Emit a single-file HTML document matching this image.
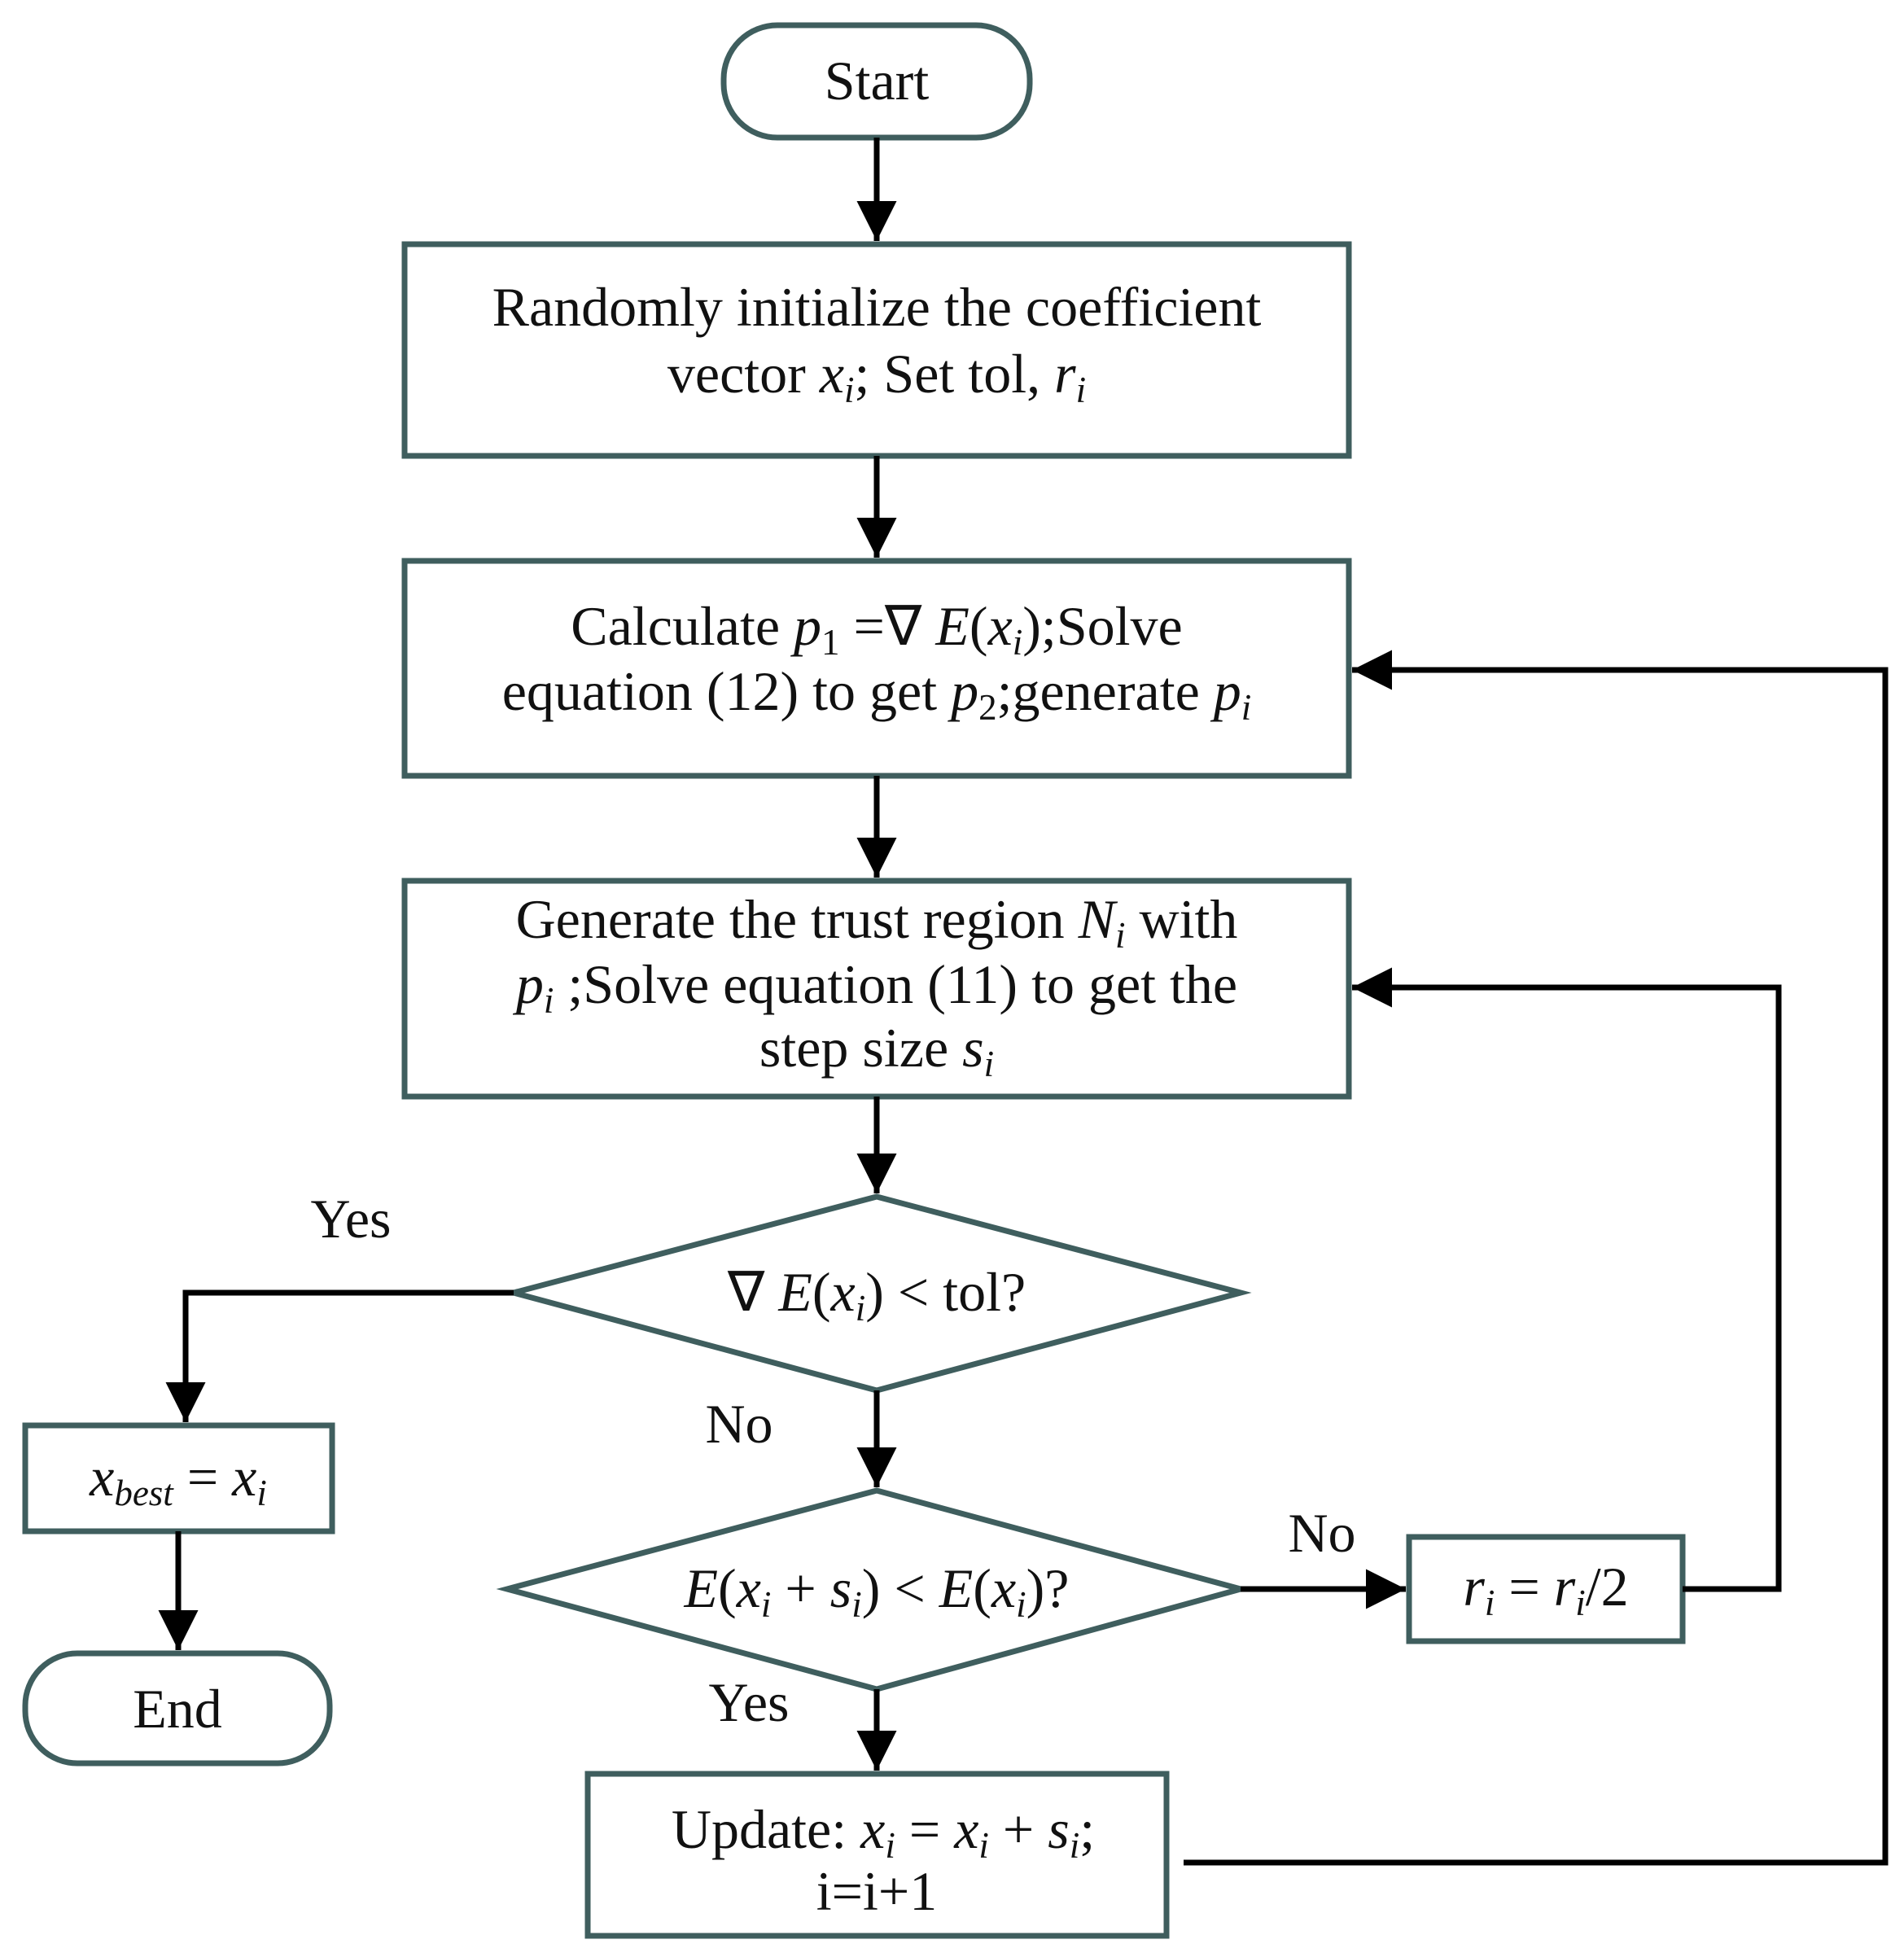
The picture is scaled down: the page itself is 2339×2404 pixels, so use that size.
<!DOCTYPE html>
<html><head><meta charset="utf-8"><style>
html,body{margin:0;padding:0;background:#fff;}
svg{display:block;}
text{font-family:"Liberation Serif",serif;font-size:68px;fill:#111;}
.m{font-style:italic;}
</style></head><body>
<svg width="2339" height="2404" viewBox="0 0 2339 2404" xmlns="http://www.w3.org/2000/svg">
<defs>
<marker id="a" markerWidth="8" markerHeight="8" refX="7" refY="4" orient="auto" markerUnits="strokeWidth">
<path d="M0,0.5 L7,4 L0,7.5 Z" fill="#000"/></marker>
</defs>
<g fill="none" stroke="#3f5e5e" stroke-width="7">
<rect x="889" y="31" width="376" height="138" rx="66"/>
<rect x="497" y="300" width="1160" height="260"/>
<rect x="497" y="689" width="1160" height="264"/>
<rect x="497" y="1082" width="1160" height="265"/>
<polygon points="631,1588 1077,1470 1524,1588 1077,1708"/>
<polygon points="623,1952 1077,1831 1524,1952 1077,2075"/>
<rect x="31" y="1751" width="377" height="130"/>
<rect x="31" y="2031" width="374" height="135" rx="64"/>
<rect x="1731" y="1888" width="336" height="128"/>
<rect x="722" y="2179" width="711" height="199"/>
</g>
<g fill="none" stroke="#000" stroke-width="7">
<line x1="1077" y1="169" x2="1077" y2="296" marker-end="url(#a)"/>
<line x1="1077" y1="560" x2="1077" y2="685" marker-end="url(#a)"/>
<line x1="1077" y1="953" x2="1077" y2="1078" marker-end="url(#a)"/>
<line x1="1077" y1="1347" x2="1077" y2="1466" marker-end="url(#a)"/>
<line x1="1077" y1="1708" x2="1077" y2="1827" marker-end="url(#a)"/>
<line x1="1077" y1="2075" x2="1077" y2="2175" marker-end="url(#a)"/>
<polyline points="631,1588 228,1588 228,1747" marker-end="url(#a)"/>
<line x1="219" y1="1881" x2="219" y2="2027" marker-end="url(#a)"/>
<line x1="1524" y1="1952" x2="1727" y2="1952" marker-end="url(#a)"/>
<polyline points="2067,1952 2185,1952 2185,1213 1661,1213" marker-end="url(#a)"/>
<polyline points="1454,2288 2316,2288 2316,823 1661,823" marker-end="url(#a)"/>
</g>
<text x="1077" y="122" text-anchor="middle">Start</text>
<text x="1077" y="400" text-anchor="middle">Randomly initialize the coefficient</text>
<text x="1077" y="482" text-anchor="middle">vector <tspan class="m">x<tspan font-size="45" dy="12">i</tspan></tspan><tspan dy="-12">; Set tol, </tspan><tspan class="m">r<tspan font-size="45" dy="12">i</tspan></tspan></text>
<text x="1077" y="792" text-anchor="middle">Calculate <tspan class="m">p</tspan><tspan font-size="45" dy="12">1</tspan><tspan dy="-12"> =∇ </tspan><tspan class="m">E</tspan>(<tspan class="m">x</tspan><tspan font-size="45" dy="12" class="m">i</tspan><tspan dy="-12">);Solve</tspan></text>
<text x="1077" y="872" text-anchor="middle">equation (12) to get <tspan class="m">p</tspan><tspan font-size="45" dy="12">2</tspan><tspan dy="-12">;generate </tspan><tspan class="m">p</tspan><tspan font-size="45" dy="12" class="m">i</tspan></text>
<text x="1077" y="1152" text-anchor="middle">Generate the trust region <tspan class="m">N</tspan><tspan font-size="45" dy="12" class="m">i</tspan><tspan dy="-12"> with</tspan></text>
<text x="1077" y="1232" text-anchor="middle"><tspan class="m">p</tspan><tspan font-size="45" dy="12" class="m">i</tspan><tspan dy="-12"> ;Solve equation (11) to get the</tspan></text>
<text x="1077" y="1310" text-anchor="middle">step size <tspan class="m">s</tspan><tspan font-size="45" dy="12" class="m">i</tspan></text>
<text x="1077" y="1610" text-anchor="middle">∇ <tspan class="m">E</tspan>(<tspan class="m">x</tspan><tspan font-size="45" dy="12" class="m">i</tspan><tspan dy="-12">) &lt; tol?</tspan></text>
<text x="1077" y="1974" text-anchor="middle"><tspan class="m">E</tspan>(<tspan class="m">x</tspan><tspan font-size="45" dy="12" class="m">i</tspan><tspan dy="-12"> + </tspan><tspan class="m">s</tspan><tspan font-size="45" dy="12" class="m">i</tspan><tspan dy="-12">) &lt; </tspan><tspan class="m">E</tspan>(<tspan class="m">x</tspan><tspan font-size="45" dy="12" class="m">i</tspan><tspan dy="-12">)?</tspan></text>
<text x="219" y="1837" text-anchor="middle"><tspan class="m">x</tspan><tspan font-size="45" dy="12" class="m">best</tspan><tspan dy="-12"> = </tspan><tspan class="m">x</tspan><tspan font-size="45" dy="12" class="m">i</tspan></text>
<text x="218" y="2122" text-anchor="middle">End</text>
<text x="1899" y="1972" text-anchor="middle"><tspan class="m">r</tspan><tspan font-size="45" dy="12" class="m">i</tspan><tspan dy="-12"> = </tspan><tspan class="m">r</tspan><tspan font-size="45" dy="12" class="m">i</tspan><tspan dy="-12">/2</tspan></text>
<text x="1085" y="2270" text-anchor="middle">Update: <tspan class="m">x</tspan><tspan font-size="45" dy="12" class="m">i</tspan><tspan dy="-12"> = </tspan><tspan class="m">x</tspan><tspan font-size="45" dy="12" class="m">i</tspan><tspan dy="-12"> + </tspan><tspan class="m">s</tspan><tspan font-size="45" dy="12" class="m">i</tspan><tspan dy="-12">;</tspan></text>
<text x="1077" y="2346" text-anchor="middle">i=i+1</text>
<text x="431" y="1520" text-anchor="middle">Yes</text>
<text x="908" y="1772" text-anchor="middle">No</text>
<text x="1624" y="1906" text-anchor="middle">No</text>
<text x="920" y="2114" text-anchor="middle">Yes</text>
</svg>
</body></html>
